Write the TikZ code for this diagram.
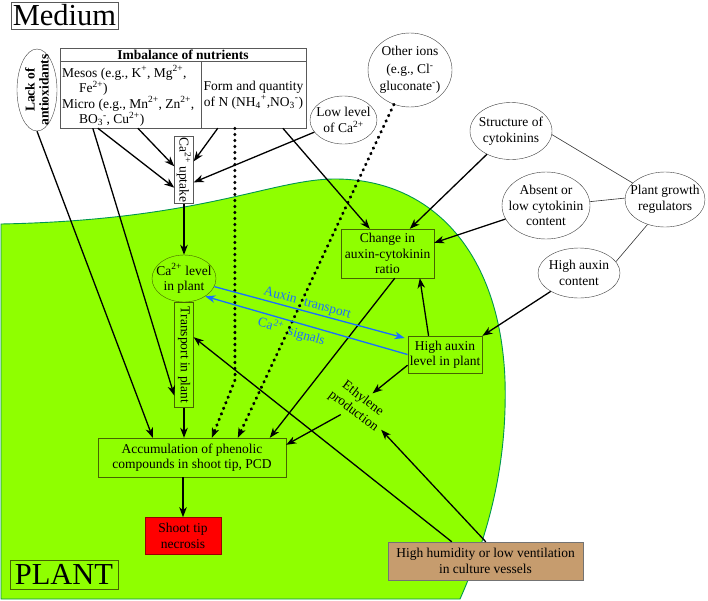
\documentclass[tikz,border=0pt]{standalone}
\usepackage{fontspec}
\setmainfont{Liberation Serif}
\usetikzlibrary{positioning, shapes.geometric, arrows.meta}

\definecolor{plantgreen}{RGB}{143,255,0}
\definecolor{greenedge}{RGB}{0,150,80}
\definecolor{olivebd}{RGB}{70,100,0}
\definecolor{auxblue}{RGB}{25,110,255}
\definecolor{necred}{RGB}{255,0,0}
\definecolor{tanbox}{RGB}{198,156,110}

\begin{document}
\begin{tikzpicture}[x=1pt, y=-1pt,
    every node/.style={font=\fontsize{13.5}{15.5}\selectfont},
    titlebox/.style={draw=black!65, inner xsep=2pt, inner ysep=1pt, font=\fontsize{30.5}{31}\selectfont},
    outbox/.style={draw=black!65, fill=white, align=center},
    plantbox/.style={draw=olivebd, align=center, inner sep=2pt},
    factor/.style={ellipse, draw=black!75, inner sep=-10pt, align=center},
    link/.style={-{Stealth[length=10pt, width=7.5pt, inset=3pt]}, line width=1.3pt},
    dots/.style={line width=3pt, dash pattern=on 0.6pt off 5.4pt, line cap=round,
                 -{Stealth[length=10pt, width=7.5pt, inset=3pt, line width=0.8pt]}},
    relation/.style={draw=black!80, line width=0.6pt},
    signal/.style={draw=auxblue, text=auxblue, line width=1.3pt, -{Stealth[length=10pt, width=7.5pt, inset=3pt]}}]
  \useasboundingbox (0,0) rectangle (708,600);
  \path[fill=plantgreen, draw=greenedge, line width=0.9pt] (1,224) .. controls (200,220) and (270,180) .. (333,179)
       .. controls (430,178) and (500,250) .. (505,380) .. controls (507,450) and (495,520) .. (460,599) -- (1,599) -- cycle;

  \node[titlebox, minimum width=107pt, minimum height=27pt] (medium) at (64.5,15.5) {Medium};
  \node[factor, rotate=90, minimum width=82pt, minimum height=40pt, font=\bfseries\fontsize{13.5}{14}\selectfont] (lack) at (37,90) {Lack of\\antioxidants};
  \node[outbox, minimum width=246pt, minimum height=80pt] (imb) at (183,88) {};
  \node[inner sep=0pt, font=\bfseries\fontsize{13.5}{15.5}\selectfont] (imbhead) at (183,55) {Imbalance of nutrients};
  \node[anchor=west, align=left, inner sep=0pt] (mesos) at (62,96) {Mesos (e.g., K\textsuperscript{+}, Mg\textsuperscript{2+},\\\hspace*{1.25em}Fe\textsuperscript{2+})\\Micro (e.g., Mn\textsuperscript{2+}, Zn\textsuperscript{2+},\\\hspace*{1.25em}BO\textsubscript{3}\textsuperscript{-}, Cu\textsuperscript{2+})};
  \node[align=center, inner sep=0pt] (formN) at (253.5,95) {Form and quantity\\of N (NH\textsubscript{4}\textsuperscript{+},NO\textsubscript{3}\textsuperscript{-})};
  \draw[draw=black!65] ([yshift=-13pt]imb.north west) -- ([yshift=-13pt]imb.north east);
  \draw[draw=black!65] ([xshift=141pt,yshift=-13pt]imb.north west) -- ([xshift=141pt]imb.south west);
  \node[outbox, rotate=-90, minimum width=66pt, minimum height=19pt, inner sep=1pt] (caup) at (184,170) {Ca\textsuperscript{2+} uptake};

  \node[factor, minimum width=67pt, minimum height=48pt] (lowca) at (343.5,120) {Low level\\of Ca\textsuperscript{2+}};
  \node[factor, minimum width=84pt, minimum height=74pt] (other) at (410,70) {Other ions\\[2pt](e.g., Cl\textsuperscript{-}\\[2pt]gluconate\textsuperscript{-})};
  \node[factor, minimum width=82pt, minimum height=57pt] (struct) at (511,131) {Structure of\\cytokinins};
  \node[factor, minimum width=88pt, minimum height=67pt] (absent) at (546,205.5) {Absent or\\low cytokinin\\content};
  \node[factor, minimum width=80pt, minimum height=55pt] (pgr) at (665,199.5) {Plant growth\\regulators};
  \node[factor, minimum width=82pt, minimum height=50pt] (highaux) at (579,273) {High auxin\\content};

  \node[plantbox, minimum width=93pt, minimum height=49pt] (change) at (387.5,253.5) {Change in\\auxin-cytokinin\\ratio};
  \node[plantbox, ellipse, inner sep=-10pt, minimum width=64pt, minimum height=47pt] (calevel) at (184,278.5) {Ca\textsuperscript{2+} level\\in plant};
  \node[plantbox, rotate=-90, minimum width=105pt, minimum height=19pt, inner sep=1pt, below=0pt of calevel, anchor=west] (transp) {Transport in plant};
  \node[plantbox, minimum width=74pt, minimum height=37pt] (highlev) at (445,354.5) {High auxin\\level in plant};
  \node[rotate=-37, align=center, inner sep=4pt] (ethyl) at (358,405) {Ethylene\\production};
  \node[plantbox, minimum width=188pt, minimum height=39pt] (acc) at (192,457.5) {Accumulation of phenolic\\compounds in shoot tip, PCD};
  \node[draw=red!60!black, fill=necred, minimum width=76pt, minimum height=37pt, align=center, inner sep=2pt, below=40pt of acc, xshift=-9pt] (shoot) {Shoot tip\\necrosis};
  \node[titlebox, draw=olivebd, minimum width=108pt, minimum height=29pt] (plant) at (64,574.5) {PLANT};
  \node[draw=black!55, fill=tanbox, minimum width=195pt, minimum height=38pt, align=center] (humid) at (485.5,561) {High humidity or low ventilation\\in culture vessels};

  \coordinate (bend) at (235,380);

  \draw[link] (lack.west) -- ([xshift=55pt]acc.north west);
  \draw[link] ([xshift=33pt]imb.south west) -- ([yshift=12pt]transp.south east);
  \draw[link] ([xshift=38pt]imb.south west) -- ([yshift=16pt]caup.south east);
  \draw[link] ([xshift=78pt]imb.south west) -- ([yshift=-30pt]caup.south west);
  \draw[link] ([xshift=158pt]imb.south west) -- ([yshift=-25pt]caup.north west);
  \draw[link] (lowca) -- ([yshift=-46pt]caup.north west);
  \draw[dots] ([xshift=175pt]imb.south west) -- (bend) -- ([xshift=114pt]acc.north west);
  \draw[dots] (other) -- ([xshift=140pt]acc.north west);
  \draw[link] ([xshift=223pt]imb.south west) -- ([xshift=29pt]change.north west);
  \draw[link] (struct) -- ([xshift=69pt]change.north west);
  \draw[link] (absent) -- ([yshift=-14pt]change.north east);
  \draw[link] (highaux) -- (highlev.north east);
  \draw[link] ([xshift=21pt]highlev.north west) -- ([xshift=79pt]change.south west);
  \draw[link] ([xshift=54pt]change.south west) -- ([xshift=172pt]acc.north west);
  \draw[link] ([yshift=8pt]highlev.south west) -- (ethyl);
  \draw[link] (ethyl) -- ([yshift=-7pt]acc.north east);
  \draw[link] ([xshift=98pt]humid.north west) -- (ethyl);
  \draw[link] ([xshift=64pt]humid.north west) -- ([yshift=-35pt]transp.north west);
  \draw[link] (caup.east) -- (calevel.north);
  \draw[link] (transp.east) -- (transp.east |- acc.north);
  \draw[link] (acc.south -| shoot.north) -- (shoot.north);
  \draw[relation] (struct.-5) -- (pgr.153);
  \draw[relation] (absent.5) -- (pgr.178);
  \draw[relation] (highaux.17) -- (pgr.235);

  \draw[signal, shorten >=3pt] (calevel.-15) -- node[sloped, above, pos=0.47, inner sep=1.5pt] (auxlab) {Auxin\hspace{8pt}transport} ([yshift=-3pt]highlev.north west);
  \draw[signal, {Stealth[length=10pt, width=7.5pt, inset=3pt]}-] (calevel.-40) -- node[sloped, below, pos=0.44, inner sep=2pt] (calab) {Ca\textsuperscript{2+}\hspace{6pt}signals} (highlev.west);
\end{tikzpicture}
\end{document}
